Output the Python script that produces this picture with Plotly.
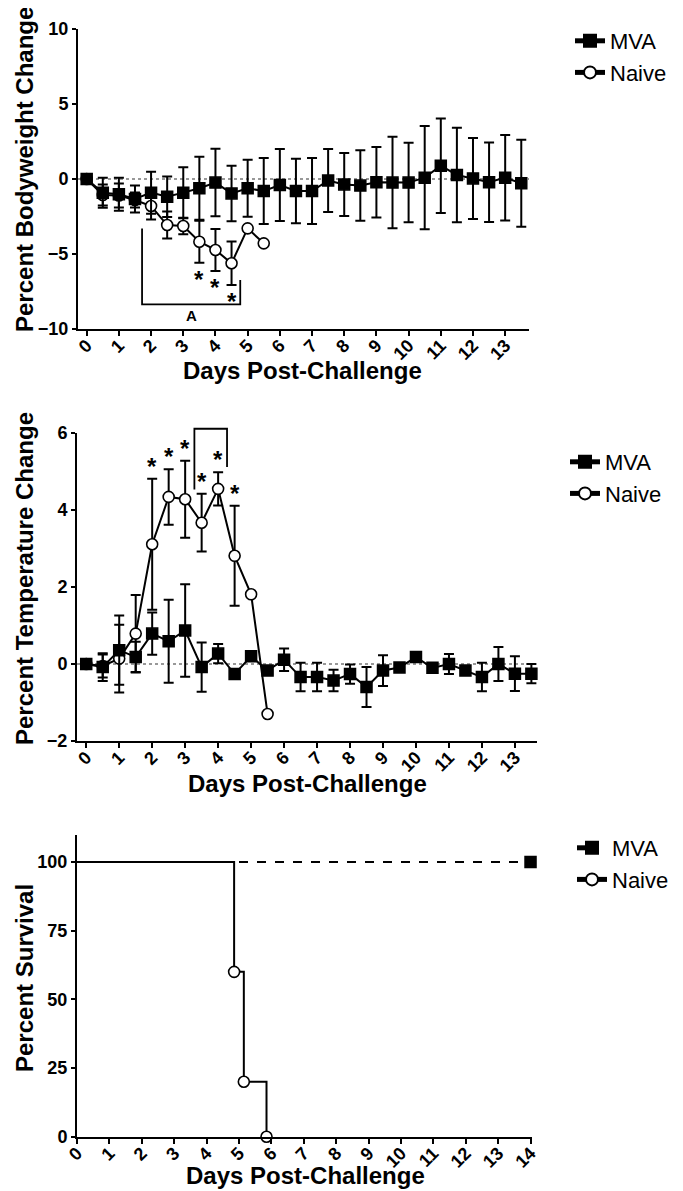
import plotly.graph_objects as go

# ---------------- data ----------------
DAYS = [0, 0.5, 1, 1.5, 2, 2.5, 3, 3.5, 4, 4.5, 5, 5.5, 6, 6.5, 7, 7.5,
        8, 8.5, 9, 9.5, 10, 10.5, 11, 11.5, 12, 12.5, 13, 13.5]
NAIVE_DAYS = [0, 0.5, 1, 1.5, 2, 2.5, 3, 3.5, 4, 4.5, 5, 5.5]

# Percent bodyweight change
BW_MVA = [0, -0.91, -1.02, -1.33, -0.91, -1.18, -0.91, -0.62, -0.24, -0.96,
          -0.62, -0.80, -0.40, -0.80, -0.80, -0.10, -0.36, -0.44, -0.22, -0.24,
          -0.24, 0.09, 0.89, 0.27, 0.04, -0.22, 0.09, -0.29]
BW_MVA_ERR = [0, 1.0, 1.1, 0.9, 1.4, 1.35, 1.7, 2.1, 2.25, 1.85, 1.9, 2.2,
              2.4, 2.15, 2.2, 2.1, 2.1, 2.35, 2.35, 3.05, 2.65, 3.44, 3.15,
              3.15, 2.7, 2.65, 2.85, 2.9]
BW_NAIVE = [0, -1.07, -1.10, -1.40, -1.80, -3.07, -3.13, -4.18, -4.73, -5.62,
            -3.29, -4.29]
BW_NAIVE_ERR = [0, 0.7, 0.8, 0.5, 0.9, 0.9, 0.55, 1.4, 1.4, 1.45, 0, 0]
BW_STAR_DAYS = [3.5, 4, 4.5]

# Percent temperature change
T_MVA = [0, -0.08, 0.36, 0.18, 0.79, 0.59, 0.87, -0.08, 0.27, -0.26, 0.20,
         -0.17, 0.11, -0.34, -0.34, -0.43, -0.26, -0.60, -0.17, -0.09, 0.18,
         -0.10, 0.0, -0.17, -0.34, 0.0, -0.25, -0.25]
T_MVA_ERR = [0, 0.36, 0.9, 0.4, 0.55, 1.08, 1.2, 0.64, 0.25, 0.08, 0.08,
             0.08, 0.29, 0.37, 0.37, 0.28, 0.25, 0.52, 0.4, 0.1, 0.08, 0.1,
             0.26, 0.1, 0.37, 0.44, 0.45, 0.25]
T_NAIVE = [0, -0.05, 0.14, 0.79, 3.11, 4.34, 4.28, 3.67, 4.55, 2.81, 1.81, -1.30]
T_NAIVE_ERR = [0, 0.3, 0.88, 1.0, 1.7, 0.72, 1.0, 0.75, 0.43, 1.3, 0, 0]
T_STAR_DAYS = [2, 2.5, 3, 3.5, 4, 4.5]

# Percent survival
SURV_MVA_DAYS = [0, 14]
SURV_MVA = [100, 100]
SURV_NAIVE_DAYS = [0, 4.85, 5.15, 5.85]
SURV_NAIVE = [100, 60, 20, 0]

# bracket annotations (day ranges, value levels, labels)
BRACKET_A = dict(days=[1.72, 4.77], levels=[-3.3, -8.36, -6.73], label="A")
BRACKET_B = dict(days=[3.28, 4.27], levels=[4.53, 6.11, 5.12], label="B")

X_TICKS_13 = list(range(14))
X_TICKS_14 = list(range(15))
X_TITLE = "Days Post-Challenge"
Y_TITLES = ["Percent Bodyweight Change", "Percent Temperature Change",
            "Percent Survival"]

# ---------------- layout geometry (page pixels) ----------------
PAGE_W, PAGE_H = 683, 1191
OFF = 8                          # default body margin of the html page
W, H = PAGE_W - 2 * OFF, PAGE_H - OFF
FONT = "Arial, Liberation Sans, sans-serif"
BW_RANGE = [-10, 10]
T_RANGE = [-2, 6]
S_RANGE = [0, 110]
X1_RANGE = [-0.27, 13.74]
X2_RANGE = [-0.28, 13.67]
X3_RANGE = [0, 14.03]


def fx(px):
    return (px - OFF) / W


def fy(py):
    return 1 - (py - OFF) / H


def xdom(a, b):
    return [fx(a), fx(b)]


def ydom(top_px, bottom_px):
    return [fy(bottom_px), fy(top_px)]


fig = go.Figure()

marker_mva = dict(symbol="square", size=11, color="black", opacity=1,
                  line=dict(color="black", width=1.5))
marker_naive = dict(symbol="circle", size=11, color="white", opacity=1,
                    line=dict(color="black", width=1.6))


def err(arr):
    return dict(type="data", array=arr, visible=True, color="black",
                thickness=2, width=5)


def series(x, y, e, name, xa, ya, leg, marker, rank):
    return go.Scatter(x=x, y=y, mode="lines+markers", name=name, xaxis=xa,
                      yaxis=ya, legend=leg, legendrank=rank,
                      line=dict(color="black", width=2), marker=marker,
                      error_y=err(e), cliponaxis=False)


# panel 1
fig.add_trace(series(NAIVE_DAYS, BW_NAIVE, BW_NAIVE_ERR, "Naive", "x", "y",
                     "legend", marker_naive, 2))
fig.add_trace(series(DAYS, BW_MVA, BW_MVA_ERR, "MVA", "x", "y", "legend",
                     marker_mva, 1))
# panel 2
fig.add_trace(series(NAIVE_DAYS, T_NAIVE, T_NAIVE_ERR, "Naive", "x2", "y2",
                     "legend2", marker_naive, 2))
fig.add_trace(series(DAYS, T_MVA, T_MVA_ERR, "MVA", "x2", "y2", "legend2",
                     marker_mva, 1))
# panel 3
fig.add_trace(go.Scatter(x=SURV_MVA_DAYS, y=SURV_MVA, mode="lines+markers",
                         name="MVA", xaxis="x3", yaxis="y3", legend="legend3",
                         legendrank=1,
                         line=dict(color="black", width=2, dash="dash"),
                         marker=dict(symbol="square", size=[0, 11],
                                     color="black", opacity=1,
                                     line=dict(color="black", width=1.5)),
                         cliponaxis=False))
fig.add_trace(go.Scatter(x=SURV_NAIVE_DAYS, y=SURV_NAIVE, mode="lines+markers",
                         name="Naive", xaxis="x3", yaxis="y3",
                         legend="legend3", legendrank=2,
                         line=dict(color="black", width=2, shape="hv"),
                         marker=dict(symbol="circle", size=[0, 11, 11, 11],
                                     color="white", opacity=1,
                                     line=dict(color="black", width=1.6)),
                         cliponaxis=False))

xtickfont = dict(family=FONT, size=18, color="black", weight="bold")
ytickfont = dict(family=FONT, size=18, color="black", weight="bold")
titlefont = dict(family=FONT, size=24, color="black", weight="bold")


def xaxis(dom, rng, ticks, anchor):
    # labels without major tick marks (to keep them tight under the axis);
    # the short outside tick marks are drawn as minor ticks at the same days
    return dict(domain=dom, range=rng, anchor=anchor, tickvals=ticks,
                ticktext=[str(t) for t in ticks], tickangle=-45,
                tickfont=xtickfont, ticks="", showline=True,
                linecolor="black", linewidth=2, showgrid=False,
                zeroline=False, automargin=False, ticklabelstandoff=-3,
                minor=dict(tickvals=ticks, ticks="outside", ticklen=5,
                           tickwidth=2, tickcolor="black", showgrid=False))


def yaxis(dom, rng, ticks, anchor):
    return dict(domain=dom, range=rng, anchor=anchor, tickvals=ticks,
                tickfont=ytickfont, ticks="outside", ticklen=4, tickwidth=2,
                tickcolor="black", showline=True, linecolor="black",
                linewidth=2, showgrid=False, zeroline=False, automargin=False)


legend_common = dict(font=dict(family=FONT, size=22, color="black"),
                     bgcolor="rgba(0,0,0,0)", itemsizing="constant",
                     itemwidth=30, xanchor="left", yanchor="top",
                     traceorder="normal")

fig.update_layout(
    width=W, height=H,
    margin=dict(l=0, r=0, t=0, b=0, pad=0, autoexpand=False),
    paper_bgcolor="white", plot_bgcolor="white",
    font=dict(family=FONT, color="black"),
    xaxis=xaxis(xdom(78, 529), X1_RANGE, X_TICKS_13, "y"),
    yaxis=yaxis(ydom(29, 329), BW_RANGE, [-10, -5, 0, 5, 10], "x"),
    xaxis2=xaxis(xdom(77, 537), X2_RANGE, X_TICKS_13, "y2"),
    yaxis2=yaxis(ydom(433, 741), T_RANGE, [-2, 0, 2, 4, 6], "x2"),
    xaxis3=xaxis(xdom(77, 531.5), X3_RANGE, X_TICKS_14, "y3"),
    yaxis3=yaxis(ydom(834.5, 1136.7), S_RANGE, [0, 25, 50, 75, 100], "x3"),
    legend=dict(x=fx(570), y=fy(20), **legend_common),
    legend2=dict(x=fx(565), y=fy(441), **legend_common),
    legend3=dict(x=fx(572), y=fy(827), **legend_common),
)

# axis titles placed as text
for (cx, cy) in [(302, 370), (307, 783), (305, 1175)]:
    fig.add_annotation(x=fx(cx), y=fy(cy), xref="paper", yref="paper",
                       text=X_TITLE, showarrow=False, xanchor="center",
                       yanchor="middle", font=titlefont)
for title, (cx, cy) in zip(Y_TITLES, [(24, 170), (24, 579), (24, 978)]):
    fig.add_annotation(x=fx(cx), y=fy(cy), xref="paper", yref="paper",
                       text=title, textangle=-90, showarrow=False,
                       xanchor="center", yanchor="middle", font=titlefont)

# dotted zero reference lines
for xr, yr in [("x domain", "y"), ("x2 domain", "y2")]:
    fig.add_shape(type="line", xref=xr, yref=yr, x0=0, x1=1, y0=0, y1=0,
                  line=dict(color="#777777", width=1.5, dash="dot"),
                  layer="below")


def to_dom(v, rng):
    return (v - rng[0]) / (rng[1] - rng[0])


def bracket(b, xa, ya, xr, yr):
    x0, x1 = [to_dom(d, xr) for d in b["days"]]
    ya_, yb, yc = [to_dom(v, yr) for v in b["levels"]]
    fig.add_shape(type="path", xref=xa + " domain", yref=ya + " domain",
                  path=f"M {x0},{ya_} L {x0},{yb} L {x1},{yb} L {x1},{yc}",
                  line=dict(color="black", width=1.8))


bracket(BRACKET_A, "x", "y", X1_RANGE, BW_RANGE)
bracket(BRACKET_B, "x2", "y2", X2_RANGE, T_RANGE)

lab_font = dict(family=FONT, size=15, color="black", weight="bold")
fig.add_annotation(x=sum(BRACKET_A["days"]) / 2, y=BRACKET_A["levels"][1],
                   xref="x", yref="y", text=BRACKET_A["label"],
                   showarrow=False, yanchor="top", yshift=-1, font=lab_font)
fig.add_annotation(x=sum(BRACKET_B["days"]) / 2, y=BRACKET_B["levels"][1],
                   xref="x2", yref="y2", text=BRACKET_B["label"],
                   showarrow=False, yanchor="bottom", yshift=1, font=lab_font)

star_font = dict(family=FONT, size=24, color="black", weight="bold")
for d in BW_STAR_DAYS:
    i = NAIVE_DAYS.index(d)
    fig.add_annotation(x=d, y=BW_NAIVE[i] - BW_NAIVE_ERR[i], xref="x",
                       yref="y", text="*", showarrow=False, yanchor="top",
                       yshift=-1, font=star_font)
for d in T_STAR_DAYS:
    i = NAIVE_DAYS.index(d)
    fig.add_annotation(x=d, y=T_NAIVE[i] + T_NAIVE_ERR[i], xref="x2",
                       yref="y2", text="*", showarrow=False, yanchor="bottom",
                       yshift=-3, font=star_font)

fig.write_html("out.html")
